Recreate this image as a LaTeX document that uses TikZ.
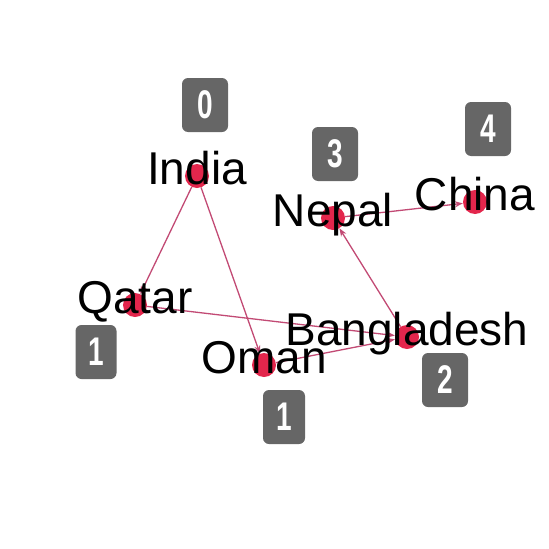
\documentclass[tikz,border=0pt]{standalone}
\usepackage{fontspec}
\setmainfont{Liberation Sans}
\newfontfamily\badgefont[FakeStretch=0.7]{Liberation Sans}
\usetikzlibrary{positioning,arrows.meta}
\definecolor{dotred}{HTML}{E3264C}
\definecolor{edgepink}{HTML}{C24A74}
\definecolor{badgegray}{HTML}{666666}

\begin{document}
\begin{tikzpicture}[
  x=1pt, y=-1pt,
  font=\fontsize{46}{50}\selectfont,
  vert/.style={circle, fill=dotred, inner sep=0pt, minimum size=24pt},
  lbl/.style={anchor=base, inner sep=0pt, yshift=-8pt},
  badge/.style={fill=badgegray, rounded corners=6pt, text=white, inner sep=0pt,
                minimum width=46pt, minimum height=54pt, font=\badgefont\bfseries\fontsize{40}{44}\selectfont},
  edge/.style={-{Stealth[length=8pt,width=6pt]}, edgepink, line width=1.3pt}]
\useasboundingbox (0,0) rectangle (549,549);
% vertices
\node[vert] (in) at (197,176) {};
\node[vert] (qa) at (135,305) {};
\node[vert] (om) at (264,365) {};
\node[vert] (bd) at (407,337) {};
\node[vert] (ne) at (333,218) {};
\node[vert] (ch) at (475,202) {};
% edges
\draw[edge] (in) -- (qa);
\draw[edge] (in) -- (om);
\draw[edge] (qa) -- (bd);
\draw[edge] (om) -- (bd);
\draw[edge] (bd) -- (ne);
\draw[edge] (ne) -- (ch);
% names
\node[lbl] at (in) {India};
\node[lbl] at (qa) {Qatar};
\node[lbl] at (om) {Oman};
\node[lbl] at (bd) {Bangladesh};
\node[lbl] at (ne) {Nepal};
\node[lbl] at (ch) {China};
% levels
\node[badge] (b0) at (205,105) {0};
\node[badge, minimum width=41pt] (b1q) at (96,352) {1};
\node[badge, minimum width=42pt] (b1o) at (284,417) {1};
\node[badge] (b2) at (445,380) {2};
\node[badge] (b3) at (335,154) {3};
\node[badge] (b4) at (488,129) {4};
\end{tikzpicture}
\end{document}
